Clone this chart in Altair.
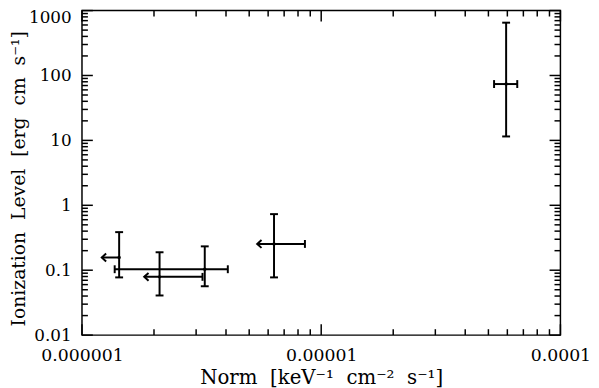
import altair as alt
import pandas as pd

# ---- data ----
x_val = [1.43e-6, 2.11e-6, 3.26e-6, 6.35e-6, 5.93e-5]
x_low = [1.21e-6, 1.82e-6, 1.37e-6, 5.40e-6, 5.28e-5]
x_high = [1.43e-6, 3.19e-6, 4.07e-6, 8.55e-6, 6.60e-5]
x_upper_limit = [True, True, False, True, False]
y_val = [0.157, 0.079, 0.1035, 0.254, 73.8]
y_low = [0.0775, 0.0408, 0.0566, 0.0775, 11.5]
y_high = [0.386, 0.189, 0.233, 0.731, 651.0]

x_major = [1e-6, 1e-5, 1e-4]
x_minor = [2e-6, 3e-6, 4e-6, 5e-6, 6e-6, 7e-6, 8e-6, 9e-6,
           2e-5, 3e-5, 4e-5, 5e-5, 6e-5, 7e-5, 8e-5, 9e-5]
y_major = [0.01, 0.1, 1, 10, 100, 1000]
y_minor = [0.02, 0.03, 0.04, 0.05, 0.06, 0.07, 0.08, 0.09,
           0.2, 0.3, 0.4, 0.5, 0.6, 0.7, 0.8, 0.9,
           2, 3, 4, 5, 6, 7, 8, 9,
           20, 30, 40, 50, 60, 70, 80, 90,
           200, 300, 400, 500, 600, 700, 800, 900]

SP = "\u00a0\u00a0"
x_title = "Norm" + SP + "[keV\u207b\u00b9" + SP + "cm\u207b\u00b2" + SP + "s\u207b\u00b9]"
y_title = "Ionization" + SP + "Level" + SP + "[erg" + SP + "cm" + SP + "s\u207b\u00b9]"

FONT = "DejaVu Serif"
W, H = 485, 329
X_DOM = [1e-6, 1e-4]
Y_DOM = [0.01, 1000]
MAJ, MIN = 11, 6  # frame tick lengths in px
BAR_W, TICK_W = 2, 1.5

# vertical segments: error bars in y, plus x-axis frame ticks (bottom & top)
v_x, v_lo, v_hi, v_w = list(x_val), list(y_low), list(y_high), [BAR_W] * len(x_val)
for vals, ln in ((x_major, MAJ), (x_minor, MIN)):
    r = 10 ** (ln / (H / 5.0))
    for v in vals:
        for a, b in ((Y_DOM[0], Y_DOM[0] * r), (Y_DOM[1] / r, Y_DOM[1])):
            v_x.append(v); v_lo.append(a); v_hi.append(b); v_w.append(TICK_W)
vdf = pd.DataFrame({"x": v_x, "ylo": v_lo, "yhi": v_hi, "sw": v_w})

# horizontal segments: error bars in x, plus y-axis frame ticks (left & right)
h_lo, h_hi, h_y, h_w = list(x_low), list(x_high), list(y_val), [BAR_W] * len(x_val)
for vals, ln in ((y_major, MAJ), (y_minor, MIN)):
    r = 10 ** (ln / (W / 2.0))
    for v in vals:
        for a, b in ((X_DOM[0], X_DOM[0] * r), (X_DOM[1] / r, X_DOM[1])):
            h_lo.append(a); h_hi.append(b); h_y.append(v); h_w.append(TICK_W)
hdf = pd.DataFrame({"xlo": h_lo, "xhi": h_hi, "y": h_y, "sw": h_w})

df = pd.DataFrame({"x": x_val, "xlo": x_low, "xhi": x_high, "lim": x_upper_limit,
                   "y": y_val, "ylo": y_low, "yhi": y_high})
ycaps = pd.DataFrame({"x": x_val + x_val, "y": y_low + y_high})
xcap_x, xcap_y = [], []
for xv, lo, hi, lim, yv in zip(x_val, x_low, x_high, x_upper_limit, y_val):
    if not lim:
        xcap_x.append(lo); xcap_y.append(yv)
    if hi != xv:
        xcap_x.append(hi); xcap_y.append(yv)
xcaps = pd.DataFrame({"x": xcap_x, "y": xcap_y})
arrows = df[df["lim"]]

xs = alt.Scale(type="log", domain=X_DOM, nice=False)
ys = alt.Scale(type="log", domain=Y_DOM, nice=False)

lab_common = dict(ticks=False, tickSize=0, domain=False, grid=False,
                  labelColor="black", labelFlush=False, labelOverlap=False,
                  labelBound=False)

ax_x_lab = alt.Axis(orient="bottom", values=x_major, format=".6~f",
                    labelFont=FONT, labelFontSize=17.5, labelPadding=12,
                    title=x_title, titleFont=FONT, titleFontSize=20,
                    titleFontWeight="normal", titleColor="black",
                    titleBaseline="alphabetic", titleY=49, **lab_common)
ax_y_lab = alt.Axis(orient="left", values=y_major[:-1], format=".2~f",
                    labelFont=FONT, labelFontSize=17, labelPadding=11,
                    title=y_title, titleFont=FONT, titleFontSize=19,
                    titleFontWeight="normal", titleColor="black",
                    titleBaseline="alphabetic", titleX=-58, titleY=170, **lab_common)
ax_y_lab_top = alt.Axis(orient="left", values=y_major[-1:], format=".2~f",
                        labelFont=FONT, labelFontSize=17, labelPadding=11,
                        labelOffset=7, title=None, **lab_common)

vbars = alt.Chart(vdf).mark_rule(color="black").encode(
    x=alt.X("x:Q", scale=xs, axis=ax_x_lab),
    y=alt.Y("ylo:Q", scale=ys, axis=ax_y_lab),
    y2="yhi:Q",
    strokeWidth=alt.StrokeWidth("sw:Q", scale=None, legend=None),
)
hbars = alt.Chart(hdf).mark_rule(color="black").encode(
    x=alt.X("xlo:Q", scale=xs, axis=None),
    x2="xhi:Q",
    y=alt.Y("y:Q", scale=ys, axis=ax_y_lab_top),
    strokeWidth=alt.StrokeWidth("sw:Q", scale=None, legend=None),
)
ycap_layer = alt.Chart(ycaps).mark_tick(color="black", orient="horizontal", size=8,
                                        thickness=2, opacity=1).encode(
    x=alt.X("x:Q", scale=xs, axis=None),
    y=alt.Y("y:Q", scale=ys, axis=None),
)
xcap_layer = alt.Chart(xcaps).mark_tick(color="black", orient="vertical", size=8,
                                        thickness=2, opacity=1).encode(
    x=alt.X("x:Q", scale=xs, axis=None),
    y=alt.Y("y:Q", scale=ys, axis=None),
)
arrow_layer = alt.Chart(arrows).mark_point(shape="M 1.1 -1 L 0 0 L 1.1 1", size=64,
                                           filled=False, strokeWidth=2, color="black",
                                           opacity=1).encode(
    x=alt.X("xlo:Q", scale=xs, axis=None),
    y=alt.Y("y:Q", scale=ys, axis=None),
)
dots = alt.Chart(df).mark_point(shape="circle", filled=True, size=12, color="black",
                                opacity=1).encode(
    x=alt.X("x:Q", scale=xs, axis=None),
    y=alt.Y("y:Q", scale=ys, axis=None),
)

chart = alt.layer(vbars, hbars, ycap_layer, xcap_layer, arrow_layer, dots).resolve_axis(
    x="independent", y="independent"
).properties(
    width=W, height=H,
    autosize=alt.AutoSizeParams(type="none"),
    padding={"left": 75, "top": 0, "right": 31, "bottom": 51},
).configure_view(stroke="black", strokeWidth=1.5)

chart.save("out.html", embed_options={"renderer": "svg", "actions": False})
